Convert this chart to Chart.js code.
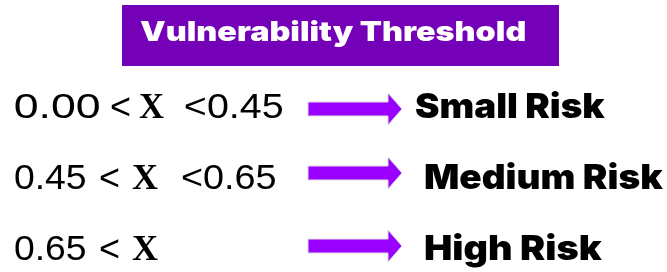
<!DOCTYPE html>
<html lang="en">
<head>
    <meta charset="UTF-8">
    <title>Vulnerability Threshold</title>
    <script src="https://cdn.jsdelivr.net/npm/chart.js"></script>
    <style>
        body {
            margin: 0;
            background: #ffffff;
        }
        .chart-container {
            width: 667px;
            height: 272px;
        }
    </style>
</head>
<body>
    <div class="chart-container">
        <canvas id="thresholdChart"></canvas>
    </div>

    <script>
        // Dados
        const titleText = 'Vulnerability Threshold';
        const categories = ['Small Risk', 'Medium Risk', 'High Risk'];
        const lowerBounds = ['0.00', '0.45', '0.65'];
        const upperBounds = ['0.45', '0.65', null];
        const variableName = 'X';

        // layout of the left-hand pieces for each row (ink x start / end)
        const rowLayout = [
            { lo: [15, 100], lt: 110, x: [139, 164], hi: [185, 282], label: [415, 605], arrowDy: 4 },
            { lo: [15, 85], lt: 99, x: [132, 158], hi: [182, 275], label: [425, 663], arrowDy: -3 },
            { lo: [15, 85], lt: 99, x: [132, 158], hi: null, label: [425, 602], arrowDy: -1 }
        ];

        // draws text so that its ink spans exactly x0..x1
        function fitText(ctx, text, x0, x1, y) {
            const m = ctx.measureText(text);
            const ink = m.actualBoundingBoxLeft + m.actualBoundingBoxRight;
            const s = (x1 - x0) / ink;
            ctx.save();
            ctx.translate(x0 + m.actualBoundingBoxLeft * s, y);
            ctx.scale(s, 1);
            ctx.fillText(text, 0, 0);
            ctx.restore();
        }

        // same, but the ink also spans y0..y1
        function fitBox(ctx, text, x0, x1, y0, y1) {
            const m = ctx.measureText(text);
            const inkW = m.actualBoundingBoxLeft + m.actualBoundingBoxRight;
            const inkH = m.actualBoundingBoxAscent + m.actualBoundingBoxDescent;
            const sx = (x1 - x0) / inkW;
            const sy = (y1 - y0) / inkH;
            ctx.save();
            ctx.translate(x0 + m.actualBoundingBoxLeft * sx, y0 + m.actualBoundingBoxAscent * sy);
            ctx.scale(sx, sy);
            ctx.fillText(text, 0, 0);
            ctx.restore();
        }

        function drawArrow(ctx, cy) {
            ctx.save();
            ctx.beginPath();
            ctx.moveTo(308, cy - 7);
            ctx.lineTo(388, cy - 7);
            ctx.lineTo(388, cy - 16);
            ctx.lineTo(402, cy);
            ctx.lineTo(388, cy + 16);
            ctx.lineTo(388, cy + 7);
            ctx.lineTo(308, cy + 7);
            ctx.closePath();
            ctx.fillStyle = '#9900ff';
            ctx.fill();
            ctx.strokeStyle = '#dedede';
            ctx.lineWidth = 1;
            ctx.stroke();
            ctx.restore();
        }

        const thresholdPlugin = {
            id: 'thresholdPlugin',
            beforeDraw(chart) {
                const ctx = chart.ctx;
                ctx.save();
                ctx.fillStyle = '#ffffff';
                ctx.fillRect(0, 0, chart.width, chart.height);
                // caixa do título
                ctx.fillStyle = '#7400b8';
                ctx.fillRect(122, 5, 437, 61);
                ctx.fillStyle = '#ffffff';
                ctx.font = '900 22px Inter';
                ctx.textBaseline = 'alphabetic';
                fitBox(ctx, titleText, 140, 526, 20, 47);
                ctx.restore();
            },
            afterDraw(chart) {
                const ctx = chart.ctx;
                const yScale = chart.scales.y;
                ctx.save();
                ctx.fillStyle = '#000000';
                ctx.textBaseline = 'alphabetic';
                categories.forEach((cat, i) => {
                    const cy = yScale.getPixelForValue(i);
                    const base = cy + 12.5;
                    const lay = rowLayout[i];

                    ctx.font = '35px "Liberation Sans"';
                    fitText(ctx, lowerBounds[i], lay.lo[0], lay.lo[1], base);
                    ctx.font = '36px "Liberation Sans"';
                    ctx.fillText('<', lay.lt, base + 1);
                    ctx.font = 'bold 36px "Liberation Serif"';
                    fitText(ctx, variableName, lay.x[0], lay.x[1], base);
                    if (upperBounds[i] !== null) {
                        ctx.font = '35px "Liberation Sans"';
                        fitText(ctx, '<' + upperBounds[i], lay.hi[0], lay.hi[1], base);
                    }

                    drawArrow(ctx, cy + lay.arrowDy);

                    ctx.font = '900 34px Inter';
                    fitText(ctx, cat, lay.label[0], lay.label[1], base);
                });
                ctx.restore();
            }
        };

        const ctx = document.getElementById('thresholdChart').getContext('2d');
        const thresholdChart = new Chart(ctx, {
            type: 'bar',
            data: {
                labels: categories,
                datasets: []
            },
            options: {
                indexAxis: 'y',
                responsive: true,
                maintainAspectRatio: false,
                animation: false,
                layout: {
                    padding: { top: 105, bottom: 25, left: 0, right: 0 }
                },
                plugins: {
                    legend: { display: false },
                    title: { display: false },
                    tooltip: { enabled: false }
                },
                scales: {
                    y: { display: false, offset: false },
                    x: { display: false }
                }
            },
            plugins: [thresholdPlugin]
        });
    </script>
</body>
</html>
